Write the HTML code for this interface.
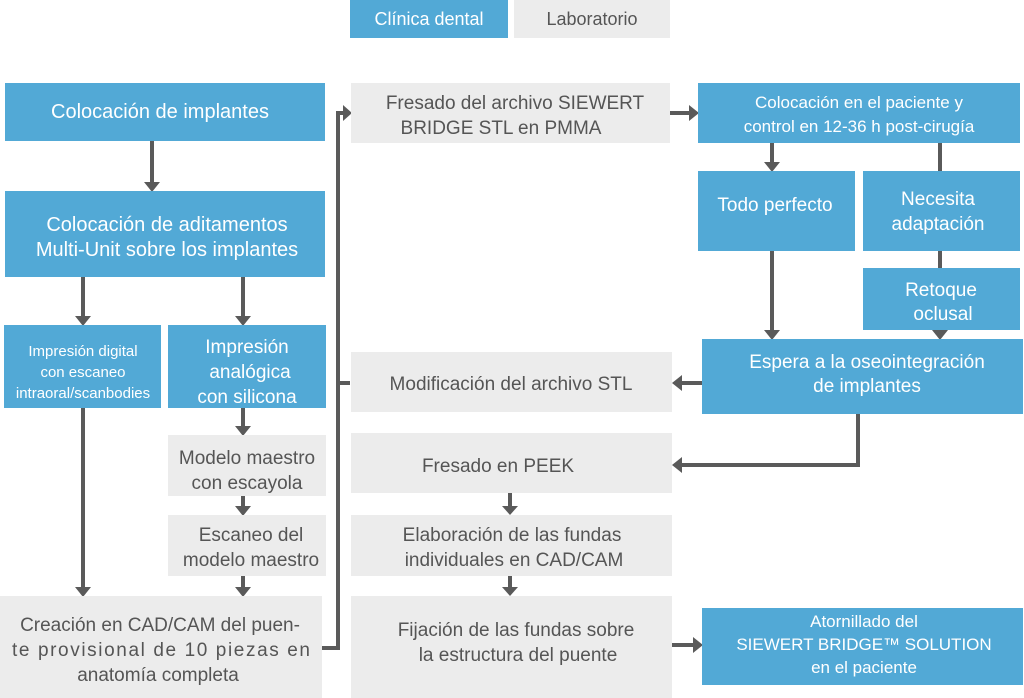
<!DOCTYPE html>
<html><head><meta charset="utf-8"><style>
html,body{margin:0;padding:0;background:#fff;}
svg{display:block;}
text{font-family:"Liberation Sans",sans-serif;font-size:18px;text-anchor:middle;}
.b{fill:#52a9d6;} .g{fill:#ececec;}
.tb{fill:#fff;} .tg{fill:#555;}
.l{stroke:#5a5a5a;stroke-width:4;fill:none;}
.a{fill:#5a5a5a;}
</style></head><body>
<svg width="1024" height="698" viewBox="0 0 1024 698">
<rect class="b" x="350" y="0" width="158" height="38"/>
<text class="tb" x="429" y="25">Clínica dental</text>
<rect class="g" x="514" y="0" width="156" height="38"/>
<text class="tg" x="592" y="25">Laboratorio</text>

<g class="l">
<path d="M152 141V183"/>
<path d="M83 277V317"/>
<path d="M243 277V317"/>
<path d="M243 408V428"/>
<path d="M243 496V508"/>
<path d="M243 576V589"/>
<path d="M83 408V589"/>
<path d="M322 648H338V113H344"/>
<path d="M338 383H350"/>
<path d="M670 113H690"/>
<path d="M772 143V163"/>
<path d="M940 143V171"/>
<path d="M940 251V268"/>
<path d="M940 330V332"/>
<path d="M772 251V331"/>
<path d="M702 383H680"/>
<path d="M858 414V465H680"/>
<path d="M510 493V507"/>
<path d="M510 576V589"/>
<path d="M672 645H694"/>
</g>
<g class="a">
<path d="M144 182h16l-8 10z"/>
<path d="M75 316h16l-8 10z"/>
<path d="M235 316h16l-8 10z"/>
<path d="M235 426h16l-8 10z"/>
<path d="M235 506h16l-8 10z"/>
<path d="M235 587h16l-8 10z"/>
<path d="M75 587h16l-8 10z"/>
<path d="M343 105v16l9-8z"/>
<path d="M689 105v16l10-8z"/>
<path d="M764 162h16l-8 10z"/>
<path d="M932 330h16l-8 10z"/>
<path d="M764 330h16l-8 10z"/>
<path d="M682 375v16l-10-8z"/>
<path d="M682 457v16l-10-8z"/>
<path d="M502 506h16l-8 9z"/>
<path d="M502 587h16l-8 9z"/>
<path d="M693 637v16l10-8z"/>
</g>

<rect class="b" x="5" y="83" width="320" height="58"/>
<text class="tb" x="160" y="118" style="font-size:20px">Colocación de implantes</text>
<rect class="b" x="5" y="191" width="320" height="86"/>
<text class="tb" x="167" y="231" style="font-size:20px">Colocación de aditamentos</text>
<text class="tb" x="167" y="256" style="font-size:20px">Multi-Unit sobre los implantes</text>
<rect class="b" x="4" y="325" width="157" height="83"/>
<text class="tb" x="83" y="356" style="font-size:15px">Impresión digital</text>
<text class="tb" x="83" y="377" style="font-size:15px">con escaneo</text>
<text class="tb" x="83" y="398" style="font-size:15px">intraoral/scanbodies</text>
<rect class="b" x="168" y="325" width="158" height="83"/>
<text class="tb" x="247" y="353" style="font-size:19px">Impresión</text>
<text class="tb" x="250" y="378" style="font-size:19px">analógica</text>
<text class="tb" x="247" y="403" style="font-size:19px">con silicona</text>
<rect class="g" x="168" y="435" width="158" height="61"/>
<text class="tg" x="247" y="464" style="font-size:19px">Modelo maestro</text>
<text class="tg" x="247" y="489" style="font-size:19px">con escayola</text>
<rect class="g" x="168" y="515" width="158" height="61"/>
<text class="tg" x="251" y="541" style="font-size:19px">Escaneo del</text>
<text class="tg" x="251" y="566" style="font-size:19px">modelo maestro</text>
<rect class="g" x="0" y="596" width="322" height="102"/>
<text class="tg" x="160" y="631" style="font-size:19px">Creación en CAD/CAM del puen-</text>
<text class="tg" x="161" y="656" style="font-size:19px" textLength="298" lengthAdjust="spacing">te provisional de 10 piezas en</text>
<text class="tg" x="158" y="681" style="font-size:19px">anatomía completa</text>

<rect class="g" x="351" y="83" width="319" height="60"/>
<text class="tg" x="515" y="109" style="font-size:19px">Fresado del archivo SIEWERT</text>
<text class="tg" x="501" y="134" style="font-size:19px">BRIDGE STL en PMMA</text>
<rect class="g" x="351" y="352" width="321" height="60"/>
<text class="tg" x="511" y="390" style="font-size:19px">Modificación del archivo STL</text>
<rect class="g" x="351" y="433" width="321" height="60"/>
<text class="tg" x="498" y="472" style="font-size:19px">Fresado en PEEK</text>
<rect class="g" x="351" y="515" width="321" height="61"/>
<text class="tg" x="512" y="541" style="font-size:19px">Elaboración de las fundas</text>
<text class="tg" x="514" y="566" style="font-size:19px">individuales en CAD/CAM</text>
<rect class="g" x="351" y="596" width="321" height="102"/>
<text class="tg" x="516" y="636" style="font-size:19px">Fijación de las fundas sobre</text>
<text class="tg" x="518" y="661" style="font-size:19px">la estructura del puente</text>

<rect class="b" x="698" y="83" width="322" height="60"/>
<text class="tb" x="859" y="108" style="font-size:17px">Colocación en el paciente y</text>
<text class="tb" x="859" y="132" style="font-size:17px">control en 12-36 h post-cirugía</text>
<rect class="b" x="698" y="171" width="157" height="80"/>
<text class="tb" x="775" y="211" style="font-size:19px">Todo perfecto</text>
<rect class="b" x="863" y="171" width="157" height="80"/>
<text class="tb" x="938" y="205" style="font-size:19px">Necesita</text>
<text class="tb" x="938" y="230" style="font-size:19px">adaptación</text>
<rect class="b" x="863" y="268" width="157" height="62"/>
<text class="tb" x="941" y="296" style="font-size:19px">Retoque</text>
<text class="tb" x="943" y="320" style="font-size:19px">oclusal</text>
<rect class="b" x="702" y="339" width="321" height="75"/>
<text class="tb" x="867" y="368" style="font-size:19px">Espera a la oseointegración</text>
<text class="tb" x="867" y="392" style="font-size:19px">de implantes</text>
<rect class="b" x="702" y="608" width="321" height="77"/>
<text class="tb" x="864" y="627" style="font-size:17px">Atornillado del</text>
<text class="tb" x="864" y="650" style="font-size:17px">SIEWERT BRIDGE™ SOLUTION</text>
<text class="tb" x="864" y="673" style="font-size:17px">en el paciente</text>
</svg>
</body></html>
